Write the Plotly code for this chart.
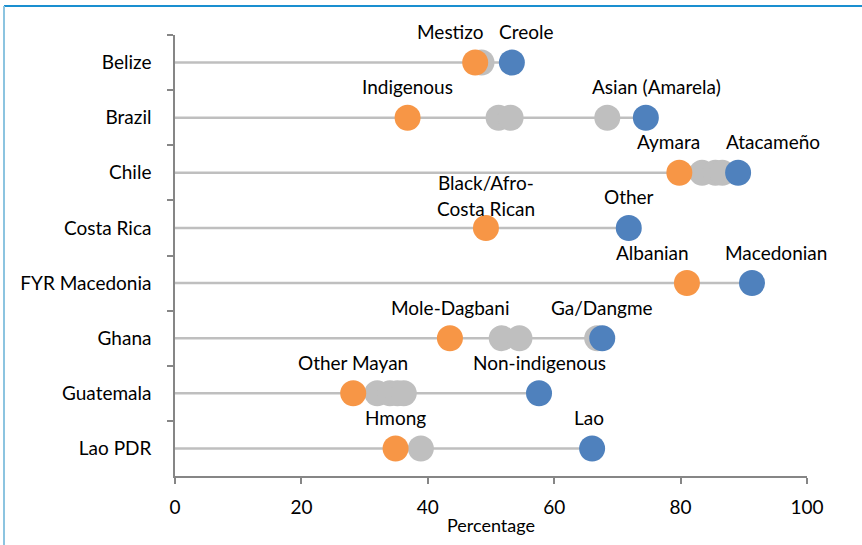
import plotly.graph_objects as go

# ---------------- data ----------------
countries = ["Belize", "Brazil", "Chile", "Costa Rica", "FYR Macedonia",
             "Ghana", "Guatemala", "Lao PDR"]
min_values = [47.5, 36.8, 79.8, 49.2, 81.0, 43.5, 28.2, 34.9]
max_values = [53.3, 74.5, 89.1, 71.8, 91.3, 67.6, 57.6, 66.0]
min_labels = ["Mestizo", "Indigenous", "Aymara", "Black/Afro-<br>Costa Rican",
              "Albanian", "Mole-Dagbani", "Other Mayan", "Hmong"]
max_labels = ["Creole", "Asian (Amarela)", "Atacameño", "Other", "Macedonian",
              "Ga/Dangme", "Non-indigenous", "Lao"]
middle_values = [[48.5], [51.2, 53.1, 68.4], [83.4, 85.5, 86.6], [], [],
                 [51.7, 54.5, 66.8], [32.0, 34.0, 35.2, 36.2], [38.9]]
x_ticks = [0, 20, 40, 60, 80, 100]
x_title = "Percentage"

# ---------------- style ----------------
ORANGE = "#F79646"
BLUE = "#4F81BD"
GREY = "#BFBFBF"
AXIS = "#868686"
FONT = "Lato"
DOT = 26
LABEL_SIZE = 19
# manual horizontal nudges of labels (pixels)
min_label_shift = {"Mestizo": -25, "Aymara": -11, "Albanian": -34}
max_label_shift = {"Creole": 14, "Asian (Amarela)": 11, "Atacameño": 35,
                   "Macedonian": 24, "Lao": -3}

W, H = 862, 545
L, R, T, B = 175, 55, 35, 69
PW, PH = W - L - R, H - T - B


def px_x(p):
    return (p - L) / PW


def px_y(p):
    return (H - B - p) / PH


fig = go.Figure()

# connector lines from 0 to the maximum
lx, ly = [], []
for c, mx in zip(countries, max_values):
    lx += [0, mx, None]
    ly += [c, c, None]
fig.add_trace(go.Scatter(x=lx, y=ly, mode="lines",
                         line=dict(color=GREY, width=2.5),
                         hoverinfo="skip", showlegend=False))

gx, gy = [], []
for c, vals in zip(countries, middle_values):
    gx += vals
    gy += [c] * len(vals)
fig.add_trace(go.Scatter(x=gx, y=gy, mode="markers",
                         marker=dict(color=GREY, size=DOT, line=dict(width=0)),
                         showlegend=False))
fig.add_trace(go.Scatter(x=min_values, y=countries, mode="markers",
                         marker=dict(color=ORANGE, size=DOT, line=dict(width=0)),
                         showlegend=False))
fig.add_trace(go.Scatter(x=max_values, y=countries, mode="markers",
                         marker=dict(color=BLUE, size=DOT, line=dict(width=0)),
                         showlegend=False))

annotations = []


def add_label(text, x, y, xshift):
    lines = text.split("<br>")
    n = len(lines)
    for i, ln in enumerate(lines):
        if n == 1:
            ys = 31
        else:
            ys = 19 + (n - 1 - i) * 26
        annotations.append(dict(x=x, y=y, xref="x", yref="y", text=ln,
                                showarrow=False, xanchor="center",
                                yanchor="middle", xshift=xshift, yshift=ys,
                                font=dict(family=FONT, size=LABEL_SIZE,
                                          color="#000000")))


for c, v, t in zip(countries, min_values, min_labels):
    add_label(t, v, c, min_label_shift.get(t, 0))
for c, v, t in zip(countries, max_values, max_labels):
    add_label(t, v, c, max_label_shift.get(t, 0))

annotations.append(dict(x=0.5, y=px_y(525), xref="paper", yref="paper",
                        text=x_title, showarrow=False, xanchor="center",
                        yanchor="middle",
                        font=dict(family=FONT, size=18, color="#000000")))

shapes = [
    dict(type="line", xref="paper", yref="paper",
         x0=px_x(4), x1=px_x(W + 5), y0=px_y(6), y1=px_y(6),
         line=dict(color="#1A8FD0", width=2)),
    dict(type="line", xref="paper", yref="paper",
         x0=px_x(4), x1=px_x(4), y0=px_y(6), y1=px_y(H + 5),
         line=dict(color="#8CC4E0", width=2)),
]

fig.update_layout(
    width=W, height=H,
    margin=dict(l=L, r=R, t=T, b=B, pad=0),
    paper_bgcolor="white", plot_bgcolor="white",
    font=dict(family=FONT, size=19, color="#000000"),
    annotations=annotations, shapes=shapes,
    showlegend=False,
    xaxis=dict(range=[0, 100], tickvals=x_ticks, showgrid=False,
               zeroline=False, showline=True, linecolor=AXIS, linewidth=1.5,
               ticks="outside", ticklen=6, tickcolor=AXIS, tickwidth=1.5,
               ticklabelstandoff=7,
               tickfont=dict(family=FONT, size=19, color="#000000")),
    yaxis=dict(type="category", categoryorder="array", categoryarray=countries,
               range=[7.5, -0.5], autorange=False, showgrid=False,
               zeroline=False,
               showline=True, linecolor=AXIS, linewidth=1.5,
               ticks="outside", ticklen=6, tickcolor=AXIS, tickwidth=1.5,
               tickson="boundaries", ticklabelstandoff=18,
               tickfont=dict(family=FONT, size=19, color="#000000")),
)

fig.write_html("out.html",
               config={"displayModeBar": False},
               post_script="document.body.style.margin='0';")
